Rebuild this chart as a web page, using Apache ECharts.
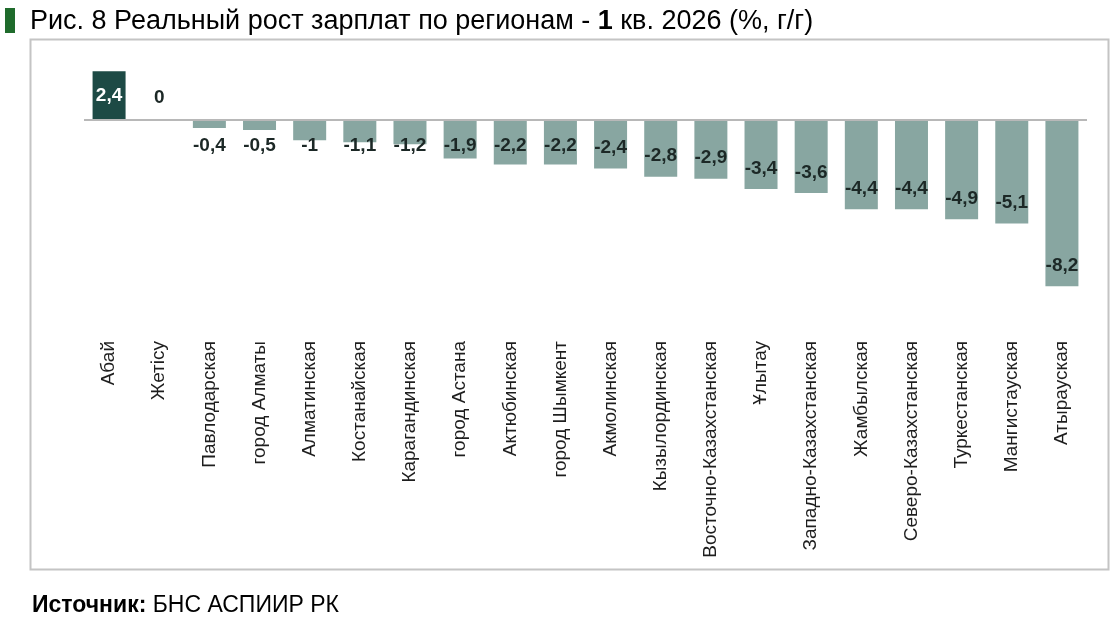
<!DOCTYPE html>
<html>
<head>
<meta charset="utf-8">
<script src="https://cdn.jsdelivr.net/npm/echarts@6/dist/echarts.min.js"></script>
<style>
  html, body { margin: 0; padding: 0; background: #fff; }
  #chart { width: 1120px; height: 626px; }
</style>
</head>
<body>
<div id="chart"></div>
<script>
// данные
const regions = ['Абай', 'Жетісу', 'Павлодарская', 'город Алматы', 'Алматинская', 'Костанайская',
  'Карагандинская', 'город Астана', 'Актюбинская', 'город Шымкент', 'Акмолинская', 'Кызылординская',
  'Восточно-Казахстанская', 'Ұлытау', 'Западно-Казахстанская', 'Жамбылская', 'Северо-Казахстанская',
  'Туркестанская', 'Мангистауская', 'Атырауская'];
const growth = [2.4, 0, -0.4, -0.5, -1, -1.1, -1.2, -1.9, -2.2, -2.2, -2.4, -2.8, -2.9, -3.4, -3.6,
  -4.4, -4.4, -4.9, -5.1, -8.2];

const font = '"Liberation Sans", Arial, sans-serif';
const fmt = v => String(v).replace('.', ',');

// подпись для каждого столбца
const barLabel = v => {
  if (v > 0) return { position: 'inside', color: '#fff' };
  if (v === 0) return { position: 'top', distance: 13 };
  if (v > -2.3) return { position: 'insideTop', distance: 16 };
  return { position: 'insideBottom', distance: 11 };
};

const chart = echarts.init(document.getElementById('chart'));
chart.setOption({
  animation: false,
  backgroundColor: '#fff',
  textStyle: { fontFamily: font },
  grid: { left: 84, right: 33, top: 59, bottom: 293 },
  xAxis: {
    type: 'category',
    data: regions,
    axisLine: { show: false },
    axisTick: { show: false },
    axisLabel: {
      rotate: 90, interval: 0, margin: 8,
      fontFamily: font, fontSize: 19, color: '#1e1e1e'
    }
  },
  yAxis: {
    type: 'value', min: -10.5, max: 3,
    show: false
  },
  series: [{
    type: 'bar',
    barWidth: 33,
    data: growth.map(v => ({
      value: v,
      itemStyle: { color: v > 0 ? '#1d4a45' : '#88a6a1' },
      label: barLabel(v)
    })),
    label: {
      show: true,
      fontFamily: font, fontSize: 19, fontWeight: 'bold', color: '#1c2826',
      formatter: p => fmt(p.value)
    },
    markLine: {
      silent: true,
      symbol: 'none',
      label: { show: false },
      lineStyle: { color: '#b8b8b8', width: 2, type: 'solid' },
      data: [{ yAxis: 0 }]
    }
  }],
  graphic: [
    { type: 'rect', shape: { x: 5, y: 8, width: 10, height: 25 }, style: { fill: '#1f6b2c' } },
    {
      type: 'text', left: 30, top: 8,
      style: {
        text: '{a|Рис. 8 Реальный рост зарплат по регионам - }{b|1}{a| кв. 2026 (%, г/г)}',
        rich: {
          a: { fontFamily: font, fontSize: 27, color: '#111' },
          b: { fontFamily: font, fontSize: 27, fontWeight: 'bold', color: '#111' }
        }
      }
    },
    {
      type: 'rect', shape: { x: 30.5, y: 39.5, width: 1078, height: 530 },
      style: { fill: 'none', stroke: '#c4c4c4', lineWidth: 2 }
    },
    {
      type: 'text', left: 32, top: 594,
      style: {
        text: '{b|Источник:}{a| БНС АСПИИР РК}',
        rich: {
          a: { fontFamily: font, fontSize: 23, color: '#111' },
          b: { fontFamily: font, fontSize: 23, fontWeight: 'bold', color: '#111' }
        }
      }
    }
  ]
});
</script>
</body>
</html>
